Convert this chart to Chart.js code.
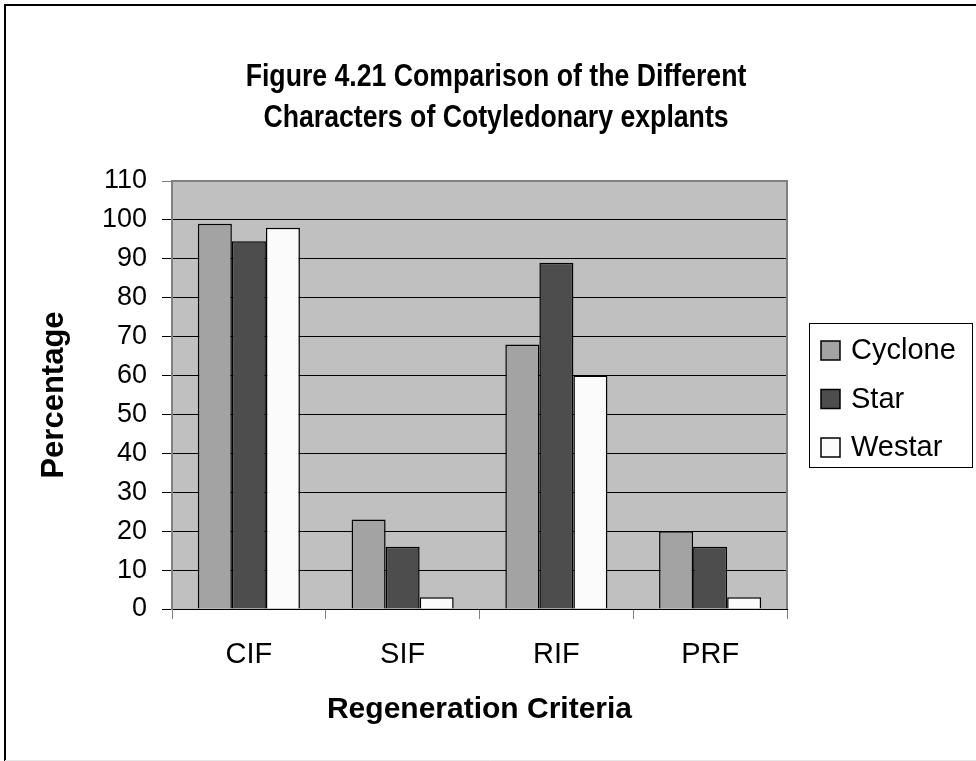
<!DOCTYPE html>
<html>
<head>
<meta charset="utf-8">
<script src="https://cdn.jsdelivr.net/npm/chart.js@4"></script>
<style>
  html, body { margin: 0; padding: 0; background: #ffffff; }
  #wrap { width: 976px; height: 761px; position: relative; }
</style>
</head>
<body>
<div id="wrap"><canvas id="c" width="976" height="761"></canvas></div>
<script>
// ---- data ----
const chartTitle = ["Figure 4.21 Comparison of the Different", "Characters of Cotyledonary explants"];
const categories = ["CIF", "SIF", "RIF", "PRF"];
const seriesNames = ["Cyclone", "Star", "Westar"];
const cycloneValues = [99, 23, 68, 20];
const starValues = [94.5, 16, 89, 16];
const westarValues = [98, 3, 60, 3];
const yAxisTitle = "Percentage";
const xAxisTitle = "Regeneration Criteria";
const yMin = 0, yMax = 110, yStep = 10;

// ---- styles ----
const FONT = "'Liberation Sans', Arial, sans-serif";
const seriesColors = ["#a3a3a3", "#4d4d4d", "#fbfbfb"];
const seriesValues = [cycloneValues, starValues, westarValues];

const bgPlugin = {
  id: 'bg',
  beforeDraw(chart) {
    const ctx = chart.ctx, a = chart.chartArea;
    ctx.save();
    ctx.fillStyle = '#ffffff';
    ctx.fillRect(0, 0, chart.width, chart.height);
    // outer frame
    ctx.strokeStyle = '#000000';
    ctx.lineWidth = 2;
    ctx.beginPath();
    ctx.moveTo(5, 761); ctx.lineTo(5, 5); ctx.lineTo(976, 5);
    ctx.stroke();
    ctx.strokeStyle = '#e6e6e6';
    ctx.lineWidth = 1;
    ctx.beginPath(); ctx.moveTo(5, 760.5); ctx.lineTo(976, 760.5); ctx.stroke();
    // plot area
    ctx.fillStyle = '#c0c0c0';
    ctx.fillRect(a.left, a.top, a.right - a.left, a.bottom - a.top);
    ctx.restore();
  },
  afterDraw(chart) {
    const ctx = chart.ctx, a = chart.chartArea;
    ctx.save();
    ctx.strokeStyle = '#808080';
    ctx.lineWidth = 2;
    ctx.beginPath();
    ctx.moveTo(a.left, a.top); ctx.lineTo(a.right, a.top); ctx.lineTo(a.right, a.bottom);
    ctx.stroke();
    // chart title (slightly condensed bold, as in the reference)
    ctx.fillStyle = '#000000';
    ctx.font = "bold 31px " + FONT;
    ctx.textAlign = 'center';
    ctx.textBaseline = 'middle';
    chartTitle.forEach((line, i) => {
      ctx.save();
      ctx.translate(496, 77 + i * 41);
      ctx.scale(0.86, 1);
      ctx.fillText(line, 0, 0);
      ctx.restore();
    });
    // legend
    const lx = 809, ly = 323, lw = 163, lh = 144;
    ctx.fillStyle = '#ffffff';
    ctx.fillRect(lx, ly, lw, lh);
    ctx.strokeStyle = '#000000';
    ctx.lineWidth = 1;
    ctx.strokeRect(lx + 0.5, ly + 0.5, lw, lh);
    ctx.font = "29px " + FONT;
    ctx.textBaseline = 'middle';
    ctx.textAlign = 'left';
    chart.data.datasets.forEach((ds, i) => {
      const cy = 350 + i * 48.5;
      ctx.fillStyle = ds.backgroundColor;
      ctx.fillRect(821, cy - 9, 19, 19);
      ctx.strokeStyle = '#000000';
      ctx.lineWidth = 1.5;
      ctx.strokeRect(821, cy - 9, 19, 19);
      ctx.fillStyle = '#000000';
      ctx.fillText(ds.label, 851, cy + 1);
    });
    ctx.restore();
  }
};

new Chart(document.getElementById('c'), {
  type: 'bar',
  data: {
    labels: categories,
    datasets: seriesNames.map((name, i) => ({
      label: name,
      data: seriesValues[i],
      backgroundColor: seriesColors[i],
      borderColor: '#000000',
      borderWidth: 1.5,
      categoryPercentage: 0.664,
      barPercentage: 1.0
    }))
  },
  options: {
    responsive: false,
    animation: false,
    devicePixelRatio: 1,
    layout: { padding: { left: 0, top: 181, right: 189, bottom: 22 } },
    plugins: {
      legend: { display: false },
      tooltip: { enabled: false },
      title: { display: false }
    },
    scales: {
      x: {
        afterFit(s) { s.height = 130; },
        grid: { offset: true, drawOnChartArea: false, drawTicks: true, tickLength: 10, color: '#808080', lineWidth: 1 },
        border: { display: true, color: '#000000', width: 1 },
        ticks: { color: '#000000', font: { family: FONT, size: 29 }, padding: 19, maxRotation: 0 },
        title: { display: true, text: xAxisTitle, color: '#000000', font: { family: FONT, size: 30, weight: 'bold', lineHeight: 1.2 }, padding: { top: 0, bottom: 11 } }
      },
      y: {
        min: yMin, max: yMax,
        afterFit(s) { s.width = 172; },
        grid: {
          drawTicks: true, tickLength: 10, lineWidth: 1,
          color: (c) => (c.tick && c.tick.value === yMax) ? '#808080' : '#000000'
        },
        border: { display: true, color: '#808080', width: 2 },
        ticks: { stepSize: yStep, color: '#000000', font: { family: FONT, size: 27 }, padding: 15 },
        title: { display: true, text: yAxisTitle, color: '#000000', font: { family: FONT, size: 31, weight: 'bold', lineHeight: 1.2 }, padding: { top: 36, bottom: 0 } }
      }
    }
  },
  plugins: [bgPlugin]
});
</script>
</body>
</html>
